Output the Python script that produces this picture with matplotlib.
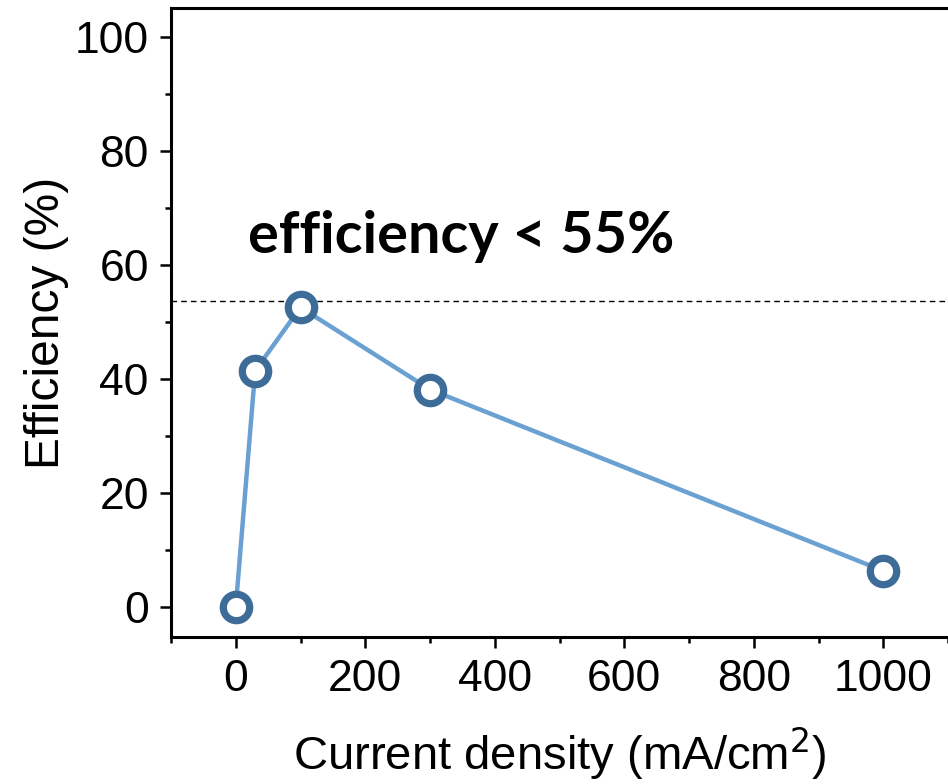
import matplotlib
matplotlib.use("Agg")
import matplotlib.pyplot as plt
from matplotlib.ticker import MultipleLocator

current_density = [0, 30, 100, 300, 1000]
efficiency = [0, 41.5, 52.6, 38.2, 6.4]
threshold = 53.7
annotation = "efficiency < 55%"

plt.rcParams['font.family'] = ['Liberation Sans', 'DejaVu Sans']

fig = plt.figure(figsize=(9.48, 7.84), dpi=100)
ax = fig.add_axes([171/948, 1 - 637/784, 1 - 171/948, (637 - 8)/784])

ax.axhline(threshold, color='black', lw=1.0, ls=(0, (4, 3)), zorder=1)
ax.plot(current_density, efficiency, color='#6aa0d2', lw=3.2, zorder=2)
ax.plot(current_density, efficiency, ls='none', marker='o', ms=19,
        mfc='white', mec='#3e6c98', mew=5.2, zorder=3)

ax.set_xlim(-100, 1100)
ax.set_ylim(-5.2, 105.1)
ax.xaxis.set_major_locator(MultipleLocator(200))
ax.xaxis.set_minor_locator(MultipleLocator(100))
ax.yaxis.set_major_locator(MultipleLocator(20))
ax.yaxis.set_minor_locator(MultipleLocator(10))

for s in ['left', 'bottom', 'top']:
    ax.spines[s].set_linewidth(2.2)
ax.spines['right'].set_visible(False)

ax.tick_params(axis='both', which='major', direction='out', length=8, width=1.8,
               labelsize=32, pad=8)
ax.tick_params(axis='both', which='minor', direction='out', length=4, width=1.8)
ax.tick_params(top=False, right=False, which='both')

ax.set_xlabel('Current density (mA/cm$^2$)', fontsize=34, labelpad=18)
ax.set_ylabel('Efficiency (%)', fontsize=34.5)
ax.yaxis.set_label_coords(-0.131, 0.5)

ax.text(19.5, 62.2, annotation, fontsize=41.5, fontweight='bold',
        family=['Lato', 'DejaVu Sans'], va='baseline', ha='left')

fig.savefig('out.png', dpi=100)
